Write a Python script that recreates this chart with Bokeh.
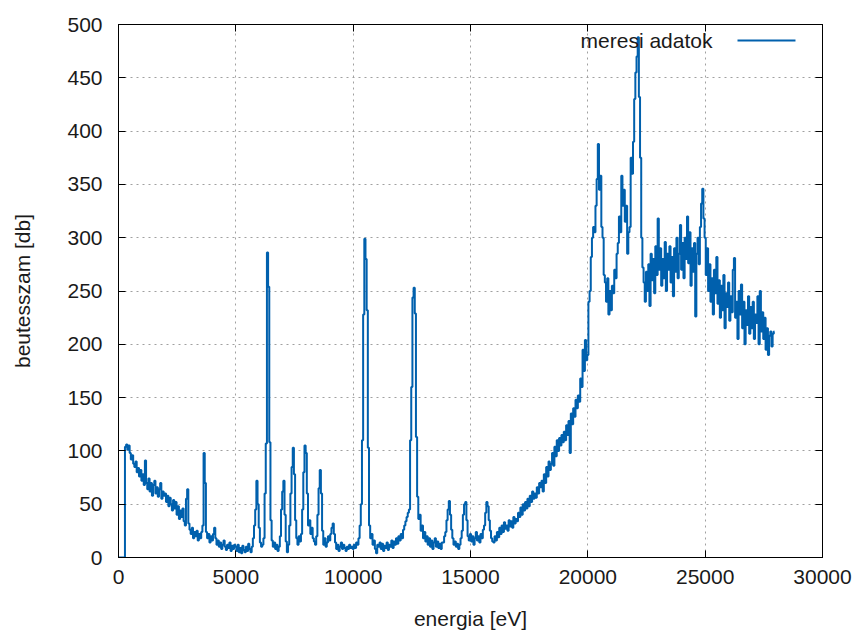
from bokeh.plotting import figure
from bokeh.models import Range1d, LinearAxis, FixedTicker, Label
from bokeh.embed import file_html
from bokeh.resources import INLINE

# ---- data: counts per 50 eV channel, starting at 0 eV ----
channel_start = 0
channel_width = 50
counts = [
    0, 0, 0, 0, 0, 0, 104, 106, 101, 105, 98, 92, 96, 88, 85, 90, 80, 84, 76, 82,
    72, 78, 68, 91, 70, 64, 74, 62, 70, 58, 68, 72, 60, 66, 57, 64, 70, 55, 62, 58,
    60, 52, 58, 48, 56, 50, 44, 54, 46, 52, 40, 48, 36, 44, 38, 46, 34, 30, 55, 64,
    32, 26, 22, 28, 18, 24, 20, 25, 16, 22, 18, 24, 30, 98, 70, 24, 18, 22, 14, 20,
    16, 22, 28, 18, 12, 16, 10, 14, 8, 12, 16, 10, 7, 12, 9, 14, 6, 11, 8, 12,
    10, 6, 12, 5, 9, 4, 11, 7, 5, 10, 6, 13, 8, 5, 10, 18, 30, 45, 72, 50,
    28, 14, 10, 12, 18, 60, 107, 286, 254, 108, 35, 16, 10, 14, 8, 12, 6, 10, 20, 45,
    62, 72, 40, 15, 5, 12, 30, 60, 85, 103, 78, 35, 18, 12, 20, 15, 22, 45, 80, 105,
    98, 60, 30, 35, 22, 28, 18, 15, 12, 20, 40, 65, 82, 60, 25, 12, 18, 10, 14, 20,
    16, 22, 28, 32, 22, 14, 8, 12, 6, 10, 14, 8, 12, 9, 6, 10, 8, 12, 9, 10,
    8, 12, 9, 14, 12, 18, 30, 50, 110, 228, 299, 280, 232, 103, 30, 18, 22, 12, 16, 8,
    4, 12, 10, 14, 8, 13, 6, 11, 9, 14, 7, 12, 10, 16, 9, 15, 12, 18, 13, 20,
    16, 22, 18, 26, 30, 34, 38, 42, 45, 110, 160, 244, 253, 229, 113, 57, 36, 40, 25, 30,
    18, 24, 15, 20, 12, 18, 10, 16, 8, 14, 18, 10, 15, 9, 13, 8, 14, 14, 20, 24,
    35, 45, 53, 40, 26, 18, 12, 15, 10, 13, 8, 12, 18, 25, 40, 50, 52, 35, 20, 16,
    22, 15, 20, 12, 18, 24, 16, 20, 14, 22, 18, 26, 30, 42, 52, 48, 35, 25, 18, 15,
    14, 20, 16, 24, 19, 28, 22, 30, 24, 33, 27, 30, 25, 35, 29, 34, 28, 38, 32, 36,
    34, 42, 38, 47, 40, 50, 44, 52, 46, 55, 48, 58, 52, 62, 55, 60, 56, 66, 60, 70,
    66, 72, 62, 78, 70, 85, 76, 90, 82, 88, 98, 86, 104, 95, 110, 100, 112, 105, 115, 108,
    118, 110, 124, 115, 128, 98, 135, 125, 140, 132, 148, 140, 152, 146, 168, 160, 195, 175, 204, 185,
    190, 240, 250, 282, 300, 310, 305, 330, 355, 388, 345, 358, 310, 300, 265, 258, 240, 262, 228, 250,
    232, 255, 248, 270, 262, 285, 295, 320, 305, 358, 330, 345, 315, 330, 285, 305, 310, 375, 360, 390,
    430, 455, 470, 488, 432, 375, 300, 272, 258, 240, 268, 250, 275, 236, 285, 260, 280, 248, 292, 265,
    318, 270, 290, 255, 280, 262, 296, 250, 285, 270, 292, 258, 282, 245, 290, 268, 300, 262, 285, 312,
    270, 295, 262, 300, 280, 320, 276, 305, 255, 290, 268, 295, 226, 285, 300, 275, 310, 332, 346, 318,
    300, 265, 290, 250, 275, 240, 262, 228, 270, 248, 282, 238, 260, 225, 255, 232, 265, 215, 248, 235,
    258, 222, 245, 230, 270, 281, 225, 240, 205, 250, 228, 256, 215, 240, 200, 232, 218, 245, 210, 235,
    215, 240, 205, 228, 220, 245, 200, 250, 212, 230, 205, 225, 195, 215, 190, 208, 212, 198, 210, 212,
]
energy = [channel_start + i * channel_width for i in range(len(counts))]

x_ticks = [0, 5000, 10000, 15000, 20000, 25000, 30000]
y_ticks = [0, 50, 100, 150, 200, 250, 300, 350, 400, 450, 500]
series_name = "meresi adatok"
x_title = "energia [eV]"
y_title = "beutesszam [db]"

FONT = "Liberation Sans"
FS = "21px"
TXT = "#1a1a1a"
BLUE = "#0060ad"

p = figure(width=856, height=632, output_backend="svg", toolbar_location=None,
           x_range=Range1d(0, 30000), y_range=Range1d(0, 500),
           min_border_left=118, min_border_right=34, min_border_top=24,
           min_border_bottom=75)
p.background_fill_color = "white"
p.border_fill_color = "white"
p.outline_line_color = "black"
p.outline_line_width = 1
p.outline_line_alpha = 1

for ax, ticks in ((p.xaxis[0], x_ticks), (p.yaxis[0], y_ticks)):
    ax.ticker = FixedTicker(ticks=ticks)
    ax.axis_line_color = "black"
    ax.major_tick_line_color = "black"
    ax.major_tick_in = 7
    ax.major_tick_out = 0
    ax.minor_tick_line_color = None
    ax.major_label_text_font = FONT
    ax.major_label_text_font_size = FS
    ax.major_label_text_color = TXT
    ax.axis_label_text_font = FONT
    ax.axis_label_text_font_size = FS
    ax.axis_label_text_font_style = "normal"
    ax.axis_label_text_color = TXT

p.xaxis.axis_label = x_title
p.yaxis.axis_label = y_title
p.xaxis.major_label_standoff = 12
p.xaxis.axis_label_standoff = 20
p.yaxis.major_label_standoff = 16
p.yaxis.axis_label_standoff = 30

for loc, ticks in (("above", x_ticks), ("right", y_ticks)):
    a = LinearAxis(ticker=FixedTicker(ticks=ticks), major_tick_in=7, major_tick_out=0,
                   minor_tick_line_color=None, major_label_text_font_size="0px",
                   major_label_text_color=None,
                   major_label_standoff=0, axis_line_color="black",
                   major_tick_line_color="black")
    p.add_layout(a, loc)

for g, ticks in ((p.xgrid[0], x_ticks), (p.ygrid[0], y_ticks)):
    g.ticker = FixedTicker(ticks=ticks)
    g.grid_line_color = "#a0a0a0"
    g.grid_line_dash = "2 4"
    g.grid_line_width = 1

p.step(x=energy, y=counts, mode="center", line_color=BLUE, line_width=2)

# legend in gnuplot style: text, then line sample
p.add_layout(Label(x=25312, y=485, text=series_name, text_align="right",
                   text_baseline="middle", text_font=FONT, text_font_size=FS,
                   text_color=TXT))
p.line(x=[26378, 28849], y=[485, 485], line_color=BLUE, line_width=2)

open("out.html", "w").write(file_html(p, INLINE))
